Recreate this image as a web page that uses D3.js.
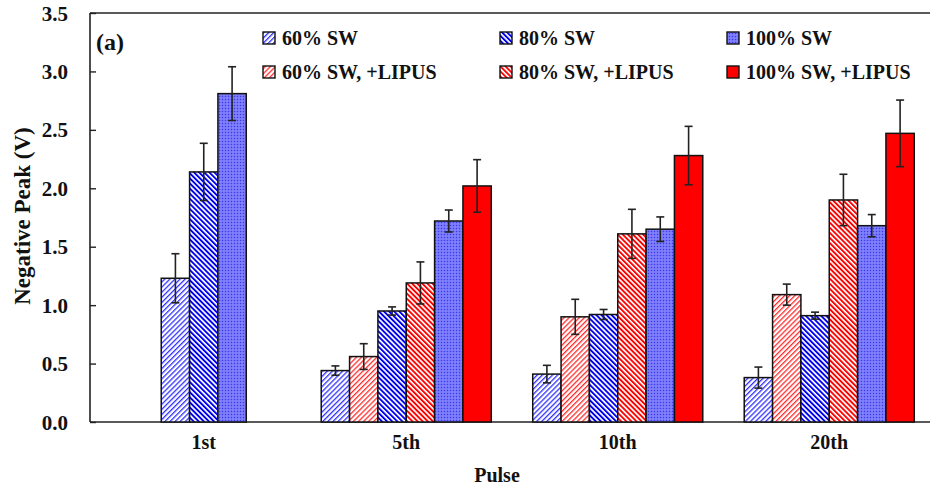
<!DOCTYPE html>
<html>
<head>
<meta charset="utf-8">
<script src="https://cdn.jsdelivr.net/npm/d3@7/dist/d3.min.js"></script>
<style>
  html, body { margin: 0; padding: 0; background: #fff; }
  svg { display: block; }
  text { font-family: "Liberation Serif", "Times New Roman", serif; font-weight: bold; fill: #111; }
</style>
</head>
<body>
<svg id="chart" width="930" height="493"></svg>
<script>
// ---------- data ----------
const categories = ["1st", "5th", "10th", "20th"];
const seriesNames = ["60% SW", "60% SW, +LIPUS", "80% SW", "80% SW, +LIPUS", "100% SW", "100% SW, +LIPUS"];
const yTicks = [0.0, 0.5, 1.0, 1.5, 2.0, 2.5, 3.0, 3.5];

const sw60      = [1.23, 0.44, 0.41, 0.38];
const sw60Err   = [0.21, 0.04, 0.075, 0.09];
const sw60L     = [null, 0.56, 0.90, 1.09];
const sw60LErr  = [null, 0.11, 0.15, 0.09];
const sw80      = [2.14, 0.95, 0.92, 0.91];
const sw80Err   = [0.245, 0.035, 0.043, 0.03];
const sw80L     = [null, 1.19, 1.61, 1.90];
const sw80LErr  = [null, 0.18, 0.21, 0.22];
const sw100     = [2.81, 1.72, 1.65, 1.68];
const sw100Err  = [0.23, 0.094, 0.105, 0.095];
const sw100L    = [null, 2.02, 2.28, 2.47];
const sw100LErr = [null, 0.225, 0.25, 0.285];

const seriesValues = [sw60, sw60L, sw80, sw80L, sw100, sw100L];
const seriesErrors = [sw60Err, sw60LErr, sw80Err, sw80LErr, sw100Err, sw100LErr];
const seriesFills = ["url(#p60)", "url(#p60L)", "url(#p80)", "url(#p80L)", "url(#p100)", "#ff0000"];
const legendOrder = [0, 2, 4, 1, 3, 5];

// ---------- layout ----------
const svg = d3.select("#chart");
const plotLeft = 90, plotTop = 13, plotBottom = 422, plotRight = 934;
const firstGroupShift = 9;

const y = d3.scaleLinear().domain([0, 3.5]).range([plotBottom, plotTop]);
const x = d3.scaleBand().domain(categories).range([89, 935]).paddingInner(0.196).paddingOuter(0.098);

// ---------- patterns ----------
const defs = svg.append("defs");
function stripes(id, color, period, lw, angle) {
  const p = defs.append("pattern").attr("id", id)
    .attr("patternUnits", "userSpaceOnUse").attr("width", period).attr("height", period)
    .attr("patternTransform", `rotate(${angle})`);
  p.append("rect").attr("width", period).attr("height", period).attr("fill", "#fff");
  p.append("rect").attr("x", 0).attr("y", 0).attr("width", lw).attr("height", period).attr("fill", color);
}
stripes("p60", "#3030ff", 3.6, 1.3, 45);
stripes("p60L", "#ff2a2a", 3.6, 1.3, 45);
stripes("p80", "#0000f0", 3.6, 1.9, -45);
stripes("p80L", "#ff0000", 3.6, 1.9, -45);
const pd = defs.append("pattern").attr("id", "p100")
  .attr("patternUnits", "userSpaceOnUse").attr("width", 3).attr("height", 3);
pd.append("rect").attr("width", 3).attr("height", 3).attr("fill", "#7272fb");
pd.append("rect").attr("x", 0).attr("y", 0).attr("width", 1).attr("height", 1).attr("fill", "#3a3ae8");
pd.append("rect").attr("x", 1.5).attr("y", 1.5).attr("width", 1).attr("height", 1).attr("fill", "#a8a8ff");

// ---------- frame ----------
const frame = svg.append("g").attr("stroke", "#222").attr("stroke-width", 1.6).attr("fill", "none");
frame.append("line").attr("x1", plotLeft).attr("x2", plotRight).attr("y1", plotTop).attr("y2", plotTop);
frame.append("line").attr("x1", plotLeft).attr("x2", plotLeft).attr("y1", plotTop).attr("y2", plotBottom);
frame.append("line").attr("x1", plotLeft).attr("x2", plotRight).attr("y1", plotBottom).attr("y2", plotBottom);

// ---------- y axis ----------
const yAxis = d3.axisLeft(y).tickValues(yTicks).tickFormat(d3.format(".1f"))
  .tickSize(-6).tickSizeOuter(0).tickPadding(22);
const ga = svg.append("g").attr("transform", `translate(${plotLeft},0)`).call(yAxis);
ga.select(".domain").remove();
ga.selectAll(".tick line").attr("stroke", "#222").attr("stroke-width", 1.4);
ga.selectAll(".tick text").attr("font-size", 21).style("font-family", '"Liberation Serif", serif').attr("font-weight", "bold").attr("fill", "#111").attr("dy", "0.34em");

// ---------- bars ----------
const groups = categories.map((c, ci) => {
  const present = seriesValues.map((s, si) => si).filter(si => seriesValues[si][ci] != null);
  const barW = x.bandwidth() / 6;
  const center = x(c) + x.bandwidth() / 2 + (present.length < 6 ? firstGroupShift : 0);
  const inner = d3.scaleBand().domain(present).range([center - barW * present.length / 2, center + barW * present.length / 2]);
  return { c, ci, present, inner, center };
});

const barG = svg.append("g");
groups.forEach(g => {
  g.present.forEach(si => {
    const v = seriesValues[si][g.ci];
    barG.append("rect")
      .attr("x", g.inner(si)).attr("width", g.inner.bandwidth())
      .attr("y", y(v)).attr("height", y(0) - y(v))
      .attr("fill", seriesFills[si]).attr("stroke", "#111").attr("stroke-width", 1.5);
  });
});
// error bars
const errG = svg.append("g").attr("stroke", "#222").attr("stroke-width", 1.6);
groups.forEach(g => {
  g.present.forEach(si => {
    const v = seriesValues[si][g.ci], e = seriesErrors[si][g.ci];
    const cx = g.inner(si) + g.inner.bandwidth() / 2;
    errG.append("line").attr("x1", cx).attr("x2", cx).attr("y1", y(v + e)).attr("y2", y(v - e));
    errG.append("line").attr("x1", cx - 4).attr("x2", cx + 4).attr("y1", y(v + e)).attr("y2", y(v + e));
    errG.append("line").attr("x1", cx - 4).attr("x2", cx + 4).attr("y1", y(v - e)).attr("y2", y(v - e));
  });
});

// ---------- x labels ----------
svg.append("g").selectAll("text").data(groups).join("text")
  .attr("x", d => d.center).attr("y", 449).attr("text-anchor", "middle")
  .attr("font-size", 20).text(d => d.c);

// ---------- axis titles ----------
svg.append("text").attr("x", 497).attr("y", 482).attr("text-anchor", "middle").attr("font-size", 20).text("Pulse");
svg.append("text").attr("transform", "translate(30,216) rotate(-90)").attr("text-anchor", "middle")
  .attr("font-size", 23).text("Negative Peak (V)");
svg.append("text").attr("x", 96).attr("y", 50).attr("font-size", 24).text("(a)");

// ---------- legend ----------
const legendCols = [263, 500, 727];
const legendRows = [38, 72];
const lg = svg.append("g");
legendOrder.forEach((si, k) => {
  const cx = legendCols[k % 3], cy = legendRows[Math.floor(k / 3)];
  lg.append("rect").attr("x", cx).attr("y", cy - 6).attr("width", 12).attr("height", 12)
    .attr("fill", seriesFills[si]).attr("stroke", "#111").attr("stroke-width", 1.4);
  lg.append("text").attr("x", cx + 19).attr("y", cy + 7).attr("font-size", 20).text(seriesNames[si]);
});
</script>
</body>
</html>
